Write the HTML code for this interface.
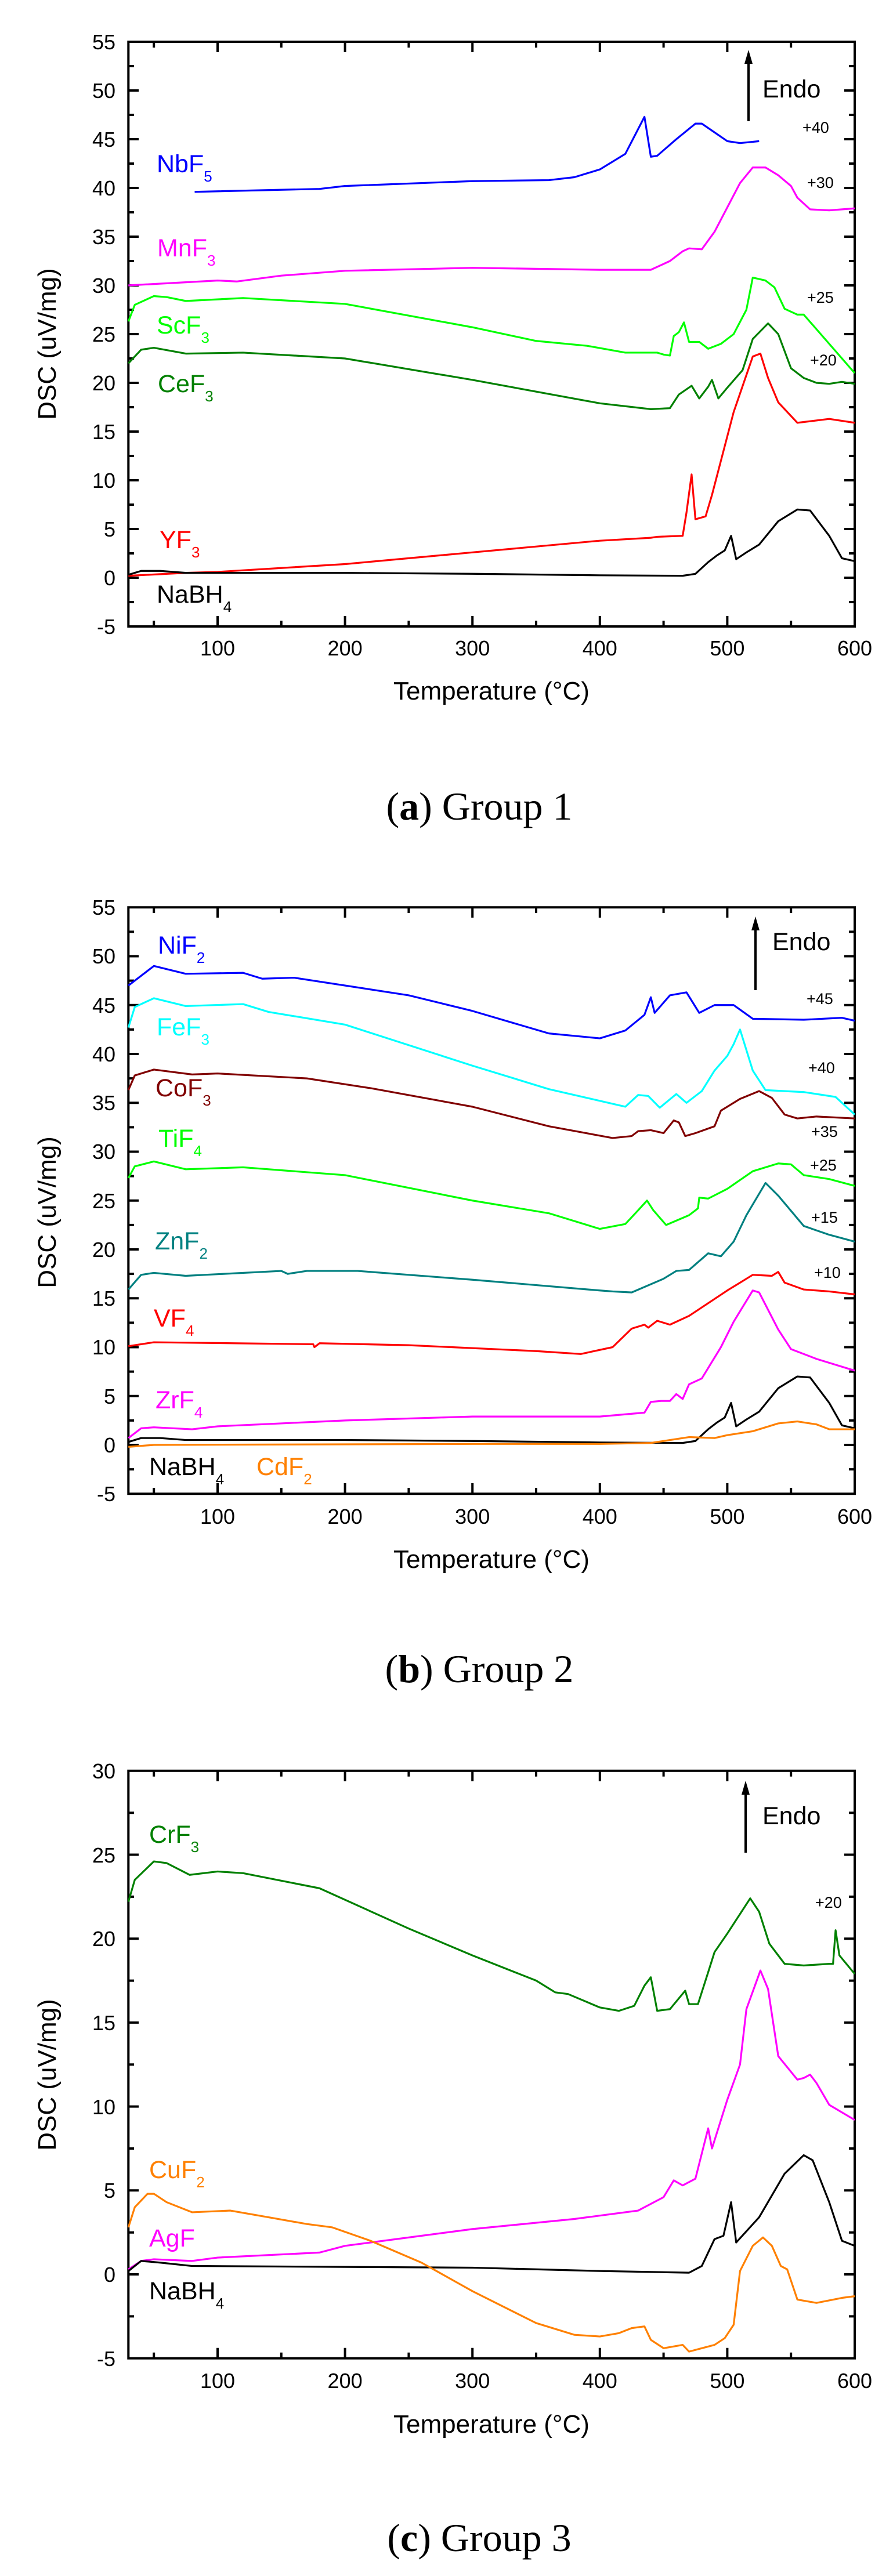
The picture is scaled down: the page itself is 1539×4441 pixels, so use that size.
<!DOCTYPE html>
<html><head><meta charset="utf-8"><style>
html,body{margin:0;padding:0;background:#fff}
svg{display:block}
text{font-family:"Liberation Sans",sans-serif}
.tl{font-size:36px}
.ti{font-size:44px}
.lb{font-size:43px}
.sb{font-size:26px}
.of{font-size:27px}
.cap{font-family:"Liberation Serif",serif;font-size:68px}
polyline{fill:none;stroke-width:3.2;vector-effect:non-scaling-stroke;stroke-linejoin:round}
.ax{fill:none;stroke:#000;stroke-width:4}
</style></head><body>
<svg width="1539" height="4441" viewBox="0 0 1539 4441" xmlns="http://www.w3.org/2000/svg">

<!-- ============ PANEL A ============ -->
<rect class="ax" x="221.3" y="72" width="1251.7" height="1008"/>
<path class="ax" d="M265.2 1080v-10M375 1080v-18M484.8 1080v-10M594.6 1080v-18M704.4 1080v-10M814.2 1080v-18M924 1080v-10M1033.8 1080v-18M1143.6 1080v-10M1253.4 1080v-18M1363.2 1080v-10
M265.2 72v10M375 72v18M484.8 72v10M594.6 72v18M704.4 72v10M814.2 72v18M924 72v10M1033.8 72v18M1143.6 72v10M1253.4 72v18M1363.2 72v10
M221 156h18M221 240h18M221 324h18M221 408h18M221 492h18M221 576h18M221 660h18M221 744h18M221 828h18M221 912h18M221 996h18
M221 114h10M221 198h10M221 282h10M221 366h10M221 450h10M221 534h10M221 618h10M221 702h10M221 786h10M221 870h10M221 954h10M221 1038h10
M1473 156h-18M1473 240h-18M1473 324h-18M1473 408h-18M1473 492h-18M1473 576h-18M1473 660h-18M1473 744h-18M1473 828h-18M1473 912h-18M1473 996h-18
M1473 114h-10M1473 198h-10M1473 282h-10M1473 366h-10M1473 450h-10M1473 534h-10M1473 618h-10M1473 702h-10M1473 786h-10M1473 870h-10M1473 954h-10M1473 1038h-10"/>
<g class="tl" text-anchor="end">
<text x="199" y="85">55</text><text x="199" y="169">50</text><text x="199" y="253">45</text><text x="199" y="337">40</text><text x="199" y="421">35</text><text x="199" y="505">30</text><text x="199" y="589">25</text><text x="199" y="673">20</text><text x="199" y="757">15</text><text x="199" y="841">10</text><text x="199" y="925">5</text><text x="199" y="1009">0</text><text x="199" y="1093">-5</text>
</g>
<g class="tl" text-anchor="middle">
<text x="375" y="1130">100</text><text x="594.6" y="1130">200</text><text x="814.2" y="1130">300</text><text x="1033.8" y="1130">400</text><text x="1253.4" y="1130">500</text><text x="1473" y="1130">600</text>
</g>
<text class="ti" text-anchor="middle" x="847" y="1206">Temperature (°C)</text>
<text class="ti" text-anchor="middle" transform="translate(96,593) rotate(-90)">DSC (uV/mg)</text>
<g transform="translate(155.4,996) scale(2.196,-16.8)">
<polyline stroke="#0000ff" points="82,39.6 180,39.9 200,40.2 300,40.7 360,40.8 380,41.1 400,41.9 420,43.5 435,47.3 440,43.2 445,43.3 460,45 475,46.6 480,46.6 500,44.8 510,44.6 525,44.8"/>
<polyline stroke="#ff00ff" points="30,30 100,30.5 115,30.4 150,31 200,31.5 300,31.8 400,31.6 440,31.6 455,32.5 465,33.5 470,33.8 480,33.7 490,35.5 500,38 510,40.5 520,42.1 530,42.1 540,41.3 550,40.2 555,39 565,37.8 580,37.7 600,37.9"/>
<polyline stroke="#00ff00" points="30,26.3 35,28 50,28.9 60,28.8 75,28.4 120,28.7 200,28.1 300,25.7 350,24.3 390,23.8 420,23.1 445,23.1 450,22.9 455,22.8 458,24.8 462,25.2 466,26.2 470,24.2 478,24.2 485,23.5 495,24 505,25 515,27.5 520,30.8 530,30.5 537,29.8 545,27.6 555,27 560,27 600,21"/>
<polyline stroke="#008000" points="30,22 40,23.4 50,23.6 75,23 120,23.1 200,22.5 300,20.3 400,17.9 440,17.3 455,17.4 462,18.8 472,19.7 478,18.4 485,19.6 488,20.3 493,18.4 500,19.5 512,21.3 520,24.5 532,26.1 540,25 550,21.5 560,20.5 570,20 580,19.9 590,20.1 600,19.9"/>
<polyline stroke="#ff0000" points="30,0.2 75,0.5 100,0.6 200,1.4 300,2.6 400,3.8 440,4.1 445,4.2 465,4.3 468,6.7 472,10.6 475,6 483,6.3 488,8.5 495,12 505,17 520,22.7 526,23 532,20.5 540,18 545,17.3 555,15.9 580,16.3 600,15.9"/>
<polyline stroke="#000" points="30,0.3 40,0.7 55,0.7 75,0.5 200,0.5 300,0.4 400,0.25 465,0.2 475,0.4 485,1.6 492,2.3 498,2.8 503,4.3 507,1.9 515,2.6 525,3.4 540,5.8 555,7 565,6.9 580,4.3 590,2 600,1.7"/>
</g>
<g class="lb">
<text x="270" y="297" fill="#0000ff">NbF<tspan class="sb" dy="16">5</tspan></text>
<text x="271" y="442" fill="#ff00ff">MnF<tspan class="sb" dy="16">3</tspan></text>
<text x="270" y="575" fill="#00ff00">ScF<tspan class="sb" dy="16">3</tspan></text>
<text x="272" y="676" fill="#008000">CeF<tspan class="sb" dy="16">3</tspan></text>
<text x="275" y="945" fill="#ff0000">YF<tspan class="sb" dy="16">3</tspan></text>
<text x="270" y="1039" fill="#000">NaBH<tspan class="sb" dy="16">4</tspan></text>
<text x="1314" y="168">Endo</text>
</g>
<g class="of"><text x="1383" y="229">+40</text><text x="1391" y="324">+30</text><text x="1391" y="522">+25</text><text x="1396" y="630">+20</text></g>
<path d="M1290 209V105" stroke="#000" stroke-width="4"/><path d="M1290 86l-7 24h14z" fill="#000"/>
<text class="cap" x="826" y="1413" text-anchor="middle">(<tspan font-weight="bold">a</tspan>) Group 1</text>

<!-- ============ PANEL B ============ -->
<rect class="ax" x="221.3" y="1564.25" width="1251.7" height="1011"/>
<path class="ax" d="M265.2 2575v-10M375 2575v-18M484.8 2575v-10M594.6 2575v-18M704.4 2575v-10M814.2 2575v-18M924 2575v-10M1033.8 2575v-18M1143.6 2575v-10M1253.4 2575v-18M1363.2 2575v-10
M265.2 1564v10M375 1564v18M484.8 1564v10M594.6 1564v18M704.4 1564v10M814.2 1564v18M924 1564v10M1033.8 1564v18M1143.6 1564v10M1253.4 1564v18M1363.2 1564v10
M221 1648.5h18M221 1732.75h18M221 1817h18M221 1901.25h18M221 1985.5h18M221 2069.75h18M221 2154h18M221 2238.25h18M221 2322.5h18M221 2406.75h18M221 2491h18
M221 1606.4h10M221 1690.6h10M221 1774.9h10M221 1859.1h10M221 1943.4h10M221 2027.6h10M221 2111.9h10M221 2196.1h10M221 2280.4h10M221 2364.6h10M221 2448.9h10M221 2533.1h10
M1473 1648.5h-18M1473 1732.75h-18M1473 1817h-18M1473 1901.25h-18M1473 1985.5h-18M1473 2069.75h-18M1473 2154h-18M1473 2238.25h-18M1473 2322.5h-18M1473 2406.75h-18M1473 2491h-18
M1473 1606.4h-10M1473 1690.6h-10M1473 1774.9h-10M1473 1859.1h-10M1473 1943.4h-10M1473 2027.6h-10M1473 2111.9h-10M1473 2196.1h-10M1473 2280.4h-10M1473 2364.6h-10M1473 2448.9h-10M1473 2533.1h-10"/>
<g class="tl" text-anchor="end">
<text x="199" y="1577">55</text><text x="199" y="1661">50</text><text x="199" y="1746">45</text><text x="199" y="1830">40</text><text x="199" y="1914">35</text><text x="199" y="1998">30</text><text x="199" y="2083">25</text><text x="199" y="2167">20</text><text x="199" y="2251">15</text><text x="199" y="2335">10</text><text x="199" y="2420">5</text><text x="199" y="2504">0</text><text x="199" y="2588">-5</text>
</g>
<g class="tl" text-anchor="middle">
<text x="375" y="2627">100</text><text x="594.6" y="2627">200</text><text x="814.2" y="2627">300</text><text x="1033.8" y="2627">400</text><text x="1253.4" y="2627">500</text><text x="1473" y="2627">600</text>
</g>
<text class="ti" text-anchor="middle" x="847" y="2703">Temperature (°C)</text>
<text class="ti" text-anchor="middle" transform="translate(96,2090) rotate(-90)">DSC (uV/mg)</text>
<g transform="translate(155.4,2491) scale(2.196,-16.85)">
<polyline stroke="#0000ff" points="30,47 50,49 75,48.2 120,48.3 135,47.7 160,47.8 250,46 300,44.4 360,42.1 400,41.6 420,42.4 435,44 440,45.8 443,44.2 455,46 468,46.3 478,44.2 490,45 505,45 520,43.6 560,43.5 590,43.7 600,43.4"/>
<polyline stroke="#00ffff" points="30,42.7 35,44.8 50,45.7 75,44.9 120,45.1 140,44.3 200,43 300,38.8 360,36.4 420,34.6 430,35.8 438,35.7 447,34.5 460,35.9 468,35 480,36.2 490,38.3 500,39.8 505,41 510,42.5 520,38.3 530,36.3 560,36.1 585,35.6 600,33.8"/>
<polyline stroke="#800000" points="30,36.3 35,37.8 50,38.4 80,37.9 100,38 170,37.5 220,36.5 300,34.6 360,32.6 410,31.4 425,31.6 430,32.1 440,32.2 450,31.9 458,33.2 462,33 467,31.6 475,31.9 490,32.6 495,34.2 510,35.4 525,36.2 535,35.5 545,33.8 555,33.4 570,33.6 600,33.4"/>
<polyline stroke="#00ff00" points="30,27.3 35,28.5 50,29 75,28.2 120,28.4 200,27.6 300,25 360,23.7 400,22.1 420,22.6 430,24 437,25 442,24 452,22.5 470,23.5 477,24.2 478,25.3 485,25.2 500,26.2 520,28 540,28.8 550,28.7 560,27.6 580,27.2 600,26.5"/>
<polyline stroke="#008080" points="30,15.9 40,17.4 50,17.6 75,17.3 150,17.8 155,17.5 170,17.8 210,17.8 300,16.9 400,15.8 410,15.7 425,15.6 450,17 460,17.8 470,17.9 485,19.6 495,19.3 505,20.8 515,23.5 530,26.8 540,25.5 560,22.4 580,21.5 600,20.8"/>
<polyline stroke="#ff0000" points="30,10.1 50,10.5 175,10.3 176,10 180,10.4 250,10.2 350,9.6 385,9.3 410,10 425,11.9 435,12.3 438,12 445,12.7 455,12.3 470,13.2 500,15.8 520,17.4 535,17.3 540,17.7 545,16.6 560,15.9 580,15.7 600,15.4"/>
<polyline stroke="#ff00ff" points="30,0.7 40,1.7 50,1.8 80,1.6 100,1.9 200,2.5 300,2.9 400,2.9 435,3.3 440,4.4 448,4.5 455,4.5 460,5.2 465,4.7 470,6.2 480,6.8 495,10 505,12.6 520,15.8 525,15.6 540,11.8 550,9.8 570,8.8 600,7.6"/>
<polyline stroke="#000" points="30,0.3 40,0.7 55,0.7 75,0.5 200,0.5 300,0.4 400,0.25 465,0.2 475,0.4 485,1.6 492,2.3 498,2.8 503,4.3 507,1.9 515,2.6 525,3.4 540,5.8 555,7 565,6.9 580,4.3 590,2 600,1.7"/>
<polyline stroke="#ff8000" points="30,-0.2 50,0 300,0.1 400,0.1 440,0.2 470,0.8 490,0.7 500,1 520,1.4 540,2.2 555,2.4 570,2.1 580,1.6 600,1.6"/>
</g>
<g class="lb">
<text x="272" y="1644" fill="#0000ff">NiF<tspan class="sb" dy="16">2</tspan></text>
<text x="270" y="1785" fill="#00ffff">FeF<tspan class="sb" dy="16">3</tspan></text>
<text x="268" y="1890" fill="#800000">CoF<tspan class="sb" dy="16">3</tspan></text>
<text x="273" y="1977" fill="#00ff00">TiF<tspan class="sb" dy="16">4</tspan></text>
<text x="267" y="2154" fill="#008080">ZnF<tspan class="sb" dy="16">2</tspan></text>
<text x="265" y="2287" fill="#ff0000">VF<tspan class="sb" dy="16">4</tspan></text>
<text x="268" y="2428" fill="#ff00ff">ZrF<tspan class="sb" dy="16">4</tspan></text>
<text x="257" y="2543" fill="#000">NaBH<tspan class="sb" dy="16">4</tspan></text>
<text x="442" y="2543" fill="#ff8000">CdF<tspan class="sb" dy="16">2</tspan></text>
<text x="1331" y="1638">Endo</text>
</g>
<g class="of"><text x="1390" y="1731">+45</text><text x="1393" y="1850">+40</text><text x="1398" y="1960">+35</text><text x="1396" y="2018">+25</text><text x="1398" y="2108">+15</text><text x="1403" y="2203">+10</text></g>
<path d="M1302 1707V1600" stroke="#000" stroke-width="4"/><path d="M1302 1580l-7 24h14z" fill="#000"/>
<text class="cap" x="826" y="2900" text-anchor="middle">(<tspan font-weight="bold">b</tspan>) Group 2</text>

<!-- ============ PANEL C ============ -->
<rect class="ax" x="221.3" y="3052.8" width="1251.7" height="1012.9"/>
<path class="ax" d="M265.2 4065.7v-10M375 4065.7v-18M484.8 4065.7v-10M594.6 4065.7v-18M704.4 4065.7v-10M814.2 4065.7v-18M924 4065.7v-10M1033.8 4065.7v-18M1143.6 4065.7v-10M1253.4 4065.7v-18M1363.2 4065.7v-10
M265.2 3052.8v10M375 3052.8v18M484.8 3052.8v10M594.6 3052.8v18M704.4 3052.8v10M814.2 3052.8v18M924 3052.8v10M1033.8 3052.8v18M1143.6 3052.8v10M1253.4 3052.8v18M1363.2 3052.8v10
M221 3197.5h18M221 3342.2h18M221 3486.9h18M221 3631.6h18M221 3776.3h18M221 3921h18
M221 3125.2h10M221 3269.9h10M221 3414.6h10M221 3559.3h10M221 3704h10M221 3848.7h10M221 3993.4h10
M1473 3197.5h-18M1473 3342.2h-18M1473 3486.9h-18M1473 3631.6h-18M1473 3776.3h-18M1473 3921h-18
M1473 3125.2h-10M1473 3269.9h-10M1473 3414.6h-10M1473 3559.3h-10M1473 3704h-10M1473 3848.7h-10M1473 3993.4h-10"/>
<g class="tl" text-anchor="end">
<text x="199" y="3066">30</text><text x="199" y="3211">25</text><text x="199" y="3355">20</text><text x="199" y="3500">15</text><text x="199" y="3645">10</text><text x="199" y="3789">5</text><text x="199" y="3934">0</text><text x="199" y="4079">-5</text>
</g>
<g class="tl" text-anchor="middle">
<text x="375" y="4117">100</text><text x="594.6" y="4117">200</text><text x="814.2" y="4117">300</text><text x="1033.8" y="4117">400</text><text x="1253.4" y="4117">500</text><text x="1473" y="4117">600</text>
</g>
<text class="ti" text-anchor="middle" x="847" y="4194">Temperature (°C)</text>
<text class="ti" text-anchor="middle" transform="translate(96,3577) rotate(-90)">DSC (uV/mg)</text>
<g transform="translate(155.4,3921) scale(2.196,-28.94)">
<polyline stroke="#008000" points="30,22.2 35,23.5 50,24.6 60,24.5 78,23.8 100,24 120,23.9 180,23 250,20.6 300,19 350,17.5 365,16.8 375,16.7 400,15.9 415,15.7 427,16 435,17.2 440,17.7 445,15.7 455,15.8 467,16.9 470,16.1 477,16.1 485,18 490,19.2 500,20.3 518,22.4 525,21.6 533,19.7 545,18.5 560,18.4 580,18.5 583,18.5 585,20.5 588,19 600,17.9"/>
<polyline stroke="#ff00ff" points="30,0.3 40,0.8 50,0.9 80,0.8 100,1 180,1.3 200,1.7 300,2.7 380,3.3 400,3.5 430,3.8 450,4.6 458,5.6 465,5.3 475,5.7 485,8.7 488,7.5 500,10.4 510,12.5 515,15.8 526,18.1 532,17 540,13 555,11.6 560,11.7 565,11.9 570,11.4 580,10.1 600,9.2"/>
<polyline stroke="#000" points="30,0.2 40,0.8 55,0.7 80,0.5 300,0.4 400,0.2 470,0.1 480,0.5 490,2.1 497,2.3 503,4.3 507,1.9 525,3.4 545,6 560,7.1 567,6.8 580,4.3 590,2 600,1.7"/>
<polyline stroke="#ff8000" points="30,2.8 35,4 45,4.8 50,4.8 60,4.3 80,3.7 110,3.8 140,3.4 170,3 190,2.8 220,2 260,0.7 300,-1 350,-2.9 380,-3.6 400,-3.7 415,-3.5 425,-3.2 435,-3.1 440,-3.9 450,-4.4 465,-4.2 470,-4.6 480,-4.4 490,-4.2 498,-3.8 505,-3 510,0.2 520,1.7 528,2.2 535,1.7 542,0.5 547,0.3 555,-1.5 570,-1.7 590,-1.4 600,-1.3"/>
</g>
<g class="lb">
<text x="257" y="3177" fill="#008000">CrF<tspan class="sb" dy="16">3</tspan></text>
<text x="257" y="3755" fill="#ff8000">CuF<tspan class="sb" dy="16">2</tspan></text>
<text x="257" y="3873" fill="#ff00ff">AgF</text>
<text x="257" y="3964" fill="#000">NaBH<tspan class="sb" dy="16">4</tspan></text>
<text x="1314" y="3145">Endo</text>
</g>
<g class="of"><text x="1405" y="3289">+20</text></g>
<path d="M1285 3194V3090" stroke="#000" stroke-width="4"/><path d="M1285 3070l-7 24h14z" fill="#000"/>
<text class="cap" x="826" y="4398" text-anchor="middle">(<tspan font-weight="bold">c</tspan>) Group 3</text>
</svg>
</body></html>
